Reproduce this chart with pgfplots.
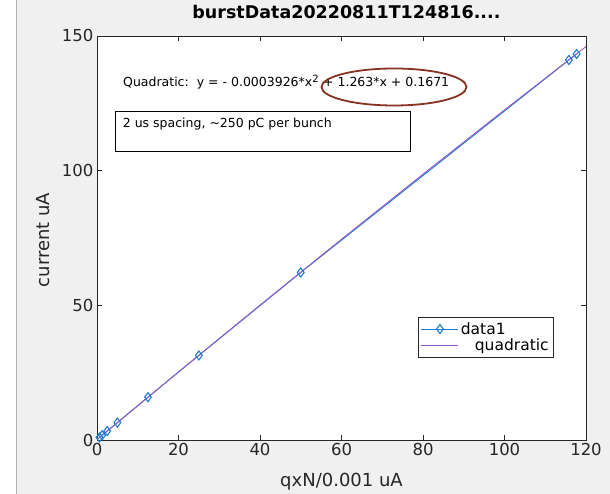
\documentclass[border=0pt]{standalone}
\usepackage{pgfplots}
\pgfplotsset{compat=1.18}
\usepackage{fontspec}
\setmainfont{DejaVu Sans}
\definecolor{bg}{RGB}{240,240,240}
\definecolor{dblue}{RGB}{30,125,210}
\definecolor{qpurple}{RGB}{150,85,195}
\definecolor{axgray}{RGB}{38,38,38}
\definecolor{ellbrown}{RGB}{135,50,35}
\pgfplotsset{
  legA/.style={legend image code/.code={\draw[mark repeat=2,mark phase=2,##1] plot coordinates {(0pt,0pt) (18.5pt,0pt) (37pt,0pt)};}},
  legB/.style={legend image code/.code={\draw[##1] (0pt,0pt) -- (37pt,0pt);}},
}
\begin{document}
\begin{tikzpicture}[x=1pt,y=1pt]
\useasboundingbox (0,0) rectangle (610,494);
\fill[white] (0,0) rectangle (610,494);
\fill[bg] (16,0) rectangle (610,494);
\draw[gray!60, line width=0.8pt] (16,0) -- (16,494);
\begin{axis}[
  at={(97pt,54pt)}, anchor=south west,
  scale only axis, width=489pt, height=404pt,
  xmin=0, xmax=120, ymin=0, ymax=150,
  xtick={0,20,40,60,80,100,120}, ytick={0,50,100,150},
  tick align=inside, xtick pos=both, ytick pos=both,
  major tick length=5pt,
  axis background/.style={fill=white},
  axis line style={axgray, line width=0.8pt},
  tick style={axgray, line width=0.6pt},
  ticklabel style={font=\fontsize{16.5}{18}\selectfont, text=axgray},
  /pgf/number format/assume math mode=true,
  title={\bfseries burstData20220811T124816....},
  title style={font=\fontsize{17.5}{19}\selectfont, text=black, at={(axis description cs:0.51,1.0446)}, anchor=center},
  xlabel={qxN/0.001 uA},
  xlabel style={font=\fontsize{18}{20}\selectfont, text=axgray, at={(axis description cs:0.5,-0.104)}, anchor=center},
  ylabel={current uA},
  ylabel style={font=\fontsize{18}{20}\selectfont, text=axgray, at={(axis description cs:-0.110,0.495)}, anchor=center, rotate=0},
  legend style={at={(0.656,0.304)}, anchor=north west, draw=axgray, fill=white,
    font=\fontsize{15.5}{17}\selectfont, inner xsep=3pt, inner ysep=3pt, row sep=-1pt, legend cell align=left},
]
\addplot[color=dblue, line width=0.9pt, mark=diamond, mark size=4.5pt, mark options={line width=1.1pt}, legA]
  coordinates {
  (0.62,0.95) (1.25,1.75) (2.5,3.32) (5,6.47) (12.5,15.9) (25,31.4) (50,62.2) (115.8,141.1) (117.7,143.3)
  };
\addlegendentry{data1}
\addplot[color=qpurple, line width=0.9pt, legB]
  coordinates {
  (0,0.167) (20,25.27) (40,50.06) (60,74.53) (80,98.69) (100,122.54) (120,146.07)
  };
\addlegendentry{\hspace{14pt}quadratic}
\end{axis}
\node[anchor=west, inner sep=0pt, font=\fontsize{12.5}{13}\selectfont] at (123,412)
  {Quadratic:\ \ y = - 0.0003926*x\textsuperscript{\fontsize{10}{10}\selectfont 2} + 1.263*x + 0.1671};
\draw[ellbrown, line width=1.8pt] (394,407) ellipse [x radius=72.5, y radius=18.5];
\draw[black, line width=0.7pt] (115,342.3) rectangle (410,382.3);
\node[anchor=west, inner sep=0pt, font=\fontsize{12.5}{13}\selectfont] at (122.7,370)
  {2 us spacing, \textasciitilde 250 pC per bunch};
\end{tikzpicture}
\end{document}
